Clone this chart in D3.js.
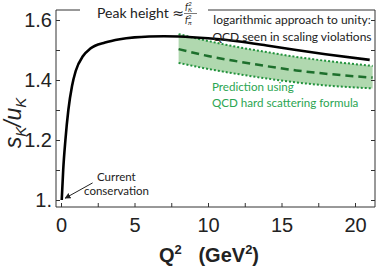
<!DOCTYPE html>
<html>
<head>
<meta charset="utf-8">
<script src="https://cdn.jsdelivr.net/npm/d3@7"></script>
<style>
  body { margin: 0; background: #fff; }
  svg { display: block; }
  .tick text { font-family: "Liberation Sans", Arial, sans-serif; font-size: 20px; fill: #222; }
  .tick line { stroke: #333; }
  .note { font-family: Lato, "Open Sans", sans-serif; font-size: 12px; fill: #222; }
  .green { fill: #2ba552; font-size: 11.6px; }
</style>
</head>
<body>
<div id="chart"></div>
<script>
// black curve: s_K/u_K vs Q^2
const qCurve = [0.05, 0.15, 0.3, 0.5, 0.75, 1.0, 1.5, 2.0, 3.0, 4.0, 5.0, 6.0, 7.0, 8.0, 10, 12, 14, 16, 18, 21];
const sCurve = [1.00, 1.10, 1.20, 1.30, 1.38, 1.43, 1.48, 1.505, 1.525, 1.536, 1.542, 1.545, 1.546, 1.545, 1.539, 1.529, 1.515, 1.50, 1.486, 1.467];

// QCD hard scattering prediction band
const qBand = [8, 10, 12, 14, 16, 18, 21.2];
const bandUpper = [1.553, 1.53, 1.51, 1.493, 1.477, 1.464, 1.447];
const bandMid = [1.503, 1.48, 1.462, 1.446, 1.432, 1.421, 1.408];
const bandLower = [1.457, 1.437, 1.42, 1.405, 1.392, 1.382, 1.372];

const xTicks = [0, 2.5, 5, 7.5, 10, 12.5, 15, 17.5, 20];
const xLabels = [0, 5, 10, 15, 20];
const yTicks = [1.0, 1.1, 1.2, 1.3, 1.4, 1.5, 1.6];
const yLabels = {"1.6": "1.6", "1.4": "1.4", "1.2": "1.2", "1": "1."};

const W = 382, H = 267;
const frame = {left: 56, right: 375, top: 10, bottom: 207};

const svg = d3.select("#chart").append("svg").attr("width", W).attr("height", H);

const x = d3.scaleLinear().domain([0, 20]).range([61, 355]);
const y = d3.scaleLinear().domain([1.0, 1.6]).range([200, 20]);

// band
const band = qBand.map((q, i) => ({q, up: bandUpper[i], mid: bandMid[i], lo: bandLower[i]}));
svg.append("path")
    .datum(band)
    .attr("fill", "#b0d8af")
    .attr("d", d3.area().x(d => x(d.q)).y0(d => y(d.lo)).y1(d => y(d.up)).curve(d3.curveMonotoneX));

svg.append("path")
    .datum(band)
    .attr("fill", "none").attr("stroke", "#22923c").attr("stroke-width", 2).attr("stroke-dasharray", "2,2")
    .attr("d", d3.line().x(d => x(d.q)).y(d => y(d.up)).curve(d3.curveMonotoneX));
svg.append("path")
    .datum(band)
    .attr("fill", "none").attr("stroke", "#22923c").attr("stroke-width", 2).attr("stroke-dasharray", "2,2")
    .attr("d", d3.line().x(d => x(d.q)).y(d => y(d.lo)).curve(d3.curveMonotoneX));
svg.append("path")
    .datum(band)
    .attr("fill", "none").attr("stroke", "#1d6f2c").attr("stroke-width", 2.5).attr("stroke-dasharray", "8,5")
    .attr("d", d3.line().x(d => x(d.q)).y(d => y(d.mid)).curve(d3.curveMonotoneX));

// main curve
svg.append("path")
    .datum(qCurve.map((q, i) => [q, sCurve[i]]))
    .attr("fill", "none").attr("stroke", "#000").attr("stroke-width", 2.6)
    .attr("d", d3.line().x(d => x(d[0])).y(d => y(d[1])).curve(d3.curveMonotoneX));

// axes with inward ticks
svg.append("g")
    .attr("transform", `translate(0,${frame.bottom})`)
    .call(d3.axisBottom(x).tickValues(xTicks).tickSize(-4).tickPadding(11)
        .tickFormat(d => xLabels.includes(d) ? d : ""))
    .call(g => g.select(".domain").remove());

svg.append("g")
    .attr("transform", `translate(${frame.left},0)`)
    .call(d3.axisLeft(y).tickValues(yTicks).tickSize(-4).tickPadding(4)
        .tickFormat(d => yLabels[String(+d.toFixed(1))] || ""))
    .call(g => g.select(".domain").remove());

svg.append("g")
    .attr("transform", `translate(${frame.right},0)`)
    .call(d3.axisRight(y).tickValues(yTicks).tickSize(-4).tickFormat(""))
    .call(g => g.select(".domain").remove());

// frame (top edge broken by the peak-height note)
const fr = svg.append("g").attr("stroke", "#333").attr("stroke-width", 1).attr("fill", "none");
fr.append("path").attr("d", `M${frame.left},${frame.top}V${frame.bottom}H${frame.right}V${frame.top}H208`);
fr.append("path").attr("d", `M${frame.left},${frame.top}H80`);

// axis titles
svg.append("text")
    .attr("x", 209).attr("y", 262)
    .attr("text-anchor", "middle")
    .style("font-family", "'Liberation Sans', Arial, sans-serif")
    .style("font-size", "20px").style("font-weight", "bold").style("fill", "#222")
    .html('Q<tspan dy="-8" font-size="13">2</tspan><tspan dy="8" xml:space="preserve">   (GeV</tspan><tspan dy="-8" font-size="13">2</tspan><tspan dy="8">)</tspan>');

svg.append("text")
    .attr("transform", "translate(21,123) rotate(-90)")
    .attr("text-anchor", "middle")
    .style("font-family", "'Liberation Sans', Arial, sans-serif")
    .style("font-size", "23px").style("font-style", "italic").style("fill", "#222")
    .html('s<tspan dy="5" font-size="15">K</tspan><tspan dy="-5">/u</tspan><tspan dy="5" font-size="15">K</tspan>');

// notes
svg.append("text").attr("class", "note").attr("x", 97).attr("y", 18).style("font-size", "14px")
    .html('Peak height <tspan style="font-family:\'DejaVu Sans\'">\u2248</tspan>');
const frac = svg.append("g").attr("class", "note").style("font-style", "italic").style("font-size", "9.5px");
frac.append("text").attr("x", 185).attr("y", 10)
    .html('f<tspan dy="2" font-size="6.5">K</tspan><tspan dy="-6" dx="-4" font-size="6.5">2</tspan>');
frac.append("line").attr("x1", 184).attr("x2", 197).attr("y1", 13.5).attr("y2", 13.5).attr("stroke", "#222").attr("stroke-width", 0.6);
frac.append("text").attr("x", 185).attr("y", 23)
    .html('f<tspan dy="2" font-size="6.5">\u03c0</tspan><tspan dy="-6" dx="-4" font-size="6.5">2</tspan>');

svg.append("text").attr("class", "note").attr("x", 292).attr("y", 24).attr("text-anchor", "middle").text("logarithmic approach to unity:");
svg.append("text").attr("class", "note").attr("x", 292).attr("y", 41).attr("text-anchor", "middle").text("QCD seen in scaling violations");

svg.append("text").attr("class", "note green").attr("x", 212).attr("y", 91).text("Prediction using");
svg.append("text").attr("class", "note green").attr("x", 212).attr("y", 107).text("QCD hard scattering formula");

svg.append("text").attr("class", "note").attr("x", 97).attr("y", 181).style("font-size", "11.5px").text("Current");
svg.append("text").attr("class", "note").attr("x", 84).attr("y", 195).style("font-size", "11.5px").text("conservation");

// arrow to the Q^2 = 0 end of the curve
const arrowTail = [2.15, 1.057], arrowTip = [0.28, 1.006];
svg.append("defs").append("marker")
    .attr("id", "ah").attr("viewBox", "0 0 10 10").attr("refX", 9).attr("refY", 5)
    .attr("markerWidth", 6).attr("markerHeight", 6).attr("orient", "auto")
    .append("path").attr("d", "M0,0L10,5L0,10z").attr("fill", "#222");
svg.append("line")
    .attr("x1", x(arrowTail[0])).attr("y1", y(arrowTail[1]))
    .attr("x2", x(arrowTip[0])).attr("y2", y(arrowTip[1]))
    .attr("stroke", "#222").attr("stroke-width", 1).attr("marker-end", "url(#ah)");
</script>
</body>
</html>
